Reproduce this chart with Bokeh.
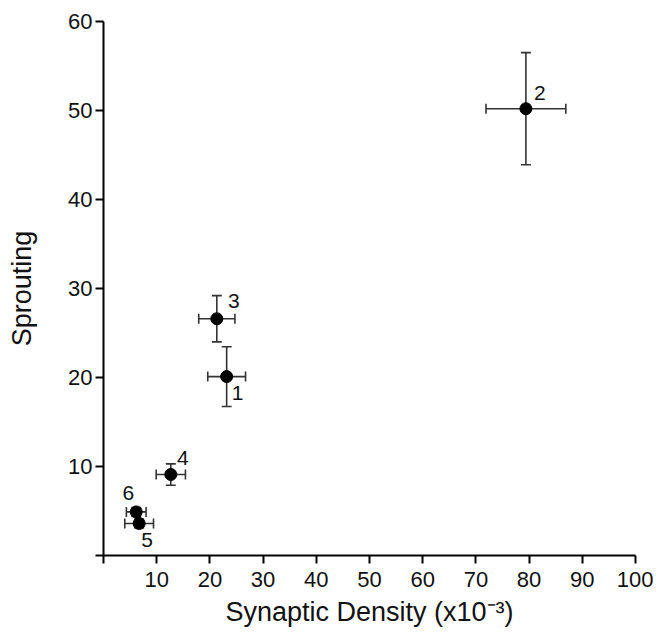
from bokeh.plotting import figure
from bokeh.models import ColumnDataSource, Whisker, TeeHead, FixedTicker, Range1d, LabelSet
from bokeh.core.properties import value
from bokeh.embed import file_html
from bokeh.resources import INLINE

# ---- data ----
labels = ["1", "2", "3", "4", "5", "6"]
density = [23.15, 79.4, 21.3, 12.65, 6.7, 6.15]
density_err = [3.55, 7.5, 3.4, 2.75, 2.7, 1.85]
sprouting = [20.1, 50.2, 26.6, 9.1, 3.6, 4.9]
sprouting_err = [3.35, 6.3, 2.6, 1.2, 0.5, 0.5]
x_ticks = [0, 10, 20, 30, 40, 50, 60, 70, 80, 90, 100]
y_ticks = [0, 10, 20, 30, 40, 50, 60]

# label placement (pixels, style only)
label_dx = [11, 14, 17, 12, 8, -8]
label_dy = [-16, 16, 18, 17, -17, 19]

FONT = "Liberation Sans"

src = ColumnDataSource(dict(
    x=density, y=sprouting,
    xl=[a - b for a, b in zip(density, density_err)],
    xu=[a + b for a, b in zip(density, density_err)],
    yl=[a - b for a, b in zip(sprouting, sprouting_err)],
    yu=[a + b for a, b in zip(sprouting, sprouting_err)],
    lab=labels, dx=label_dx, dy=label_dy,
))

p = figure(frame_width=532, frame_height=534,
           min_border_left=103, min_border_right=18,
           min_border_top=21, min_border_bottom=78,
           x_range=Range1d(0, 100), y_range=Range1d(0, 60),
           output_backend="svg", toolbar_location=None)
p.outline_line_color = None
p.grid.visible = False
p.background_fill_color = "white"
p.border_fill_color = "white"

ecol = "#333333"
wv = Whisker(source=src, base="x", upper="yu", lower="yl", dimension="height",
             line_color=ecol, line_width=1.6,
             upper_head=TeeHead(size=10, line_color=ecol, line_width=1.6),
             lower_head=TeeHead(size=10, line_color=ecol, line_width=1.6))
wh = Whisker(source=src, base="y", upper="xu", lower="xl", dimension="width",
             line_color=ecol, line_width=1.6,
             upper_head=TeeHead(size=10, line_color=ecol, line_width=1.6),
             lower_head=TeeHead(size=10, line_color=ecol, line_width=1.6))
p.add_layout(wv)
p.add_layout(wh)

p.scatter("x", "y", source=src, size=12, fill_color="black", line_color="black")

ls = LabelSet(x="x", y="y", text="lab", source=src, x_offset="dx", y_offset="dy",
              text_font=value(FONT), text_font_size="21px", text_color="#111111",
              text_align="center", text_baseline="middle")
p.add_layout(ls)

for ax in (p.xaxis[0], p.yaxis[0]):
    ax.axis_line_width = 2
    ax.axis_line_color = "black"
    ax.major_tick_line_width = 2
    ax.major_tick_line_color = "black"
    ax.major_tick_in = 0
    ax.major_tick_out = 8
    ax.minor_tick_line_color = None
    ax.major_label_text_font = FONT
    ax.major_label_text_font_size = "22px"
    ax.major_label_text_color = "#111111"
    ax.axis_label_text_font = FONT
    ax.axis_label_text_font_size = "27px"
    ax.axis_label_text_font_style = "normal"
    ax.axis_label_text_color = "#111111"

p.xaxis.ticker = FixedTicker(ticks=x_ticks)
p.yaxis.ticker = FixedTicker(ticks=y_ticks)
p.xaxis.major_label_overrides = {0: ""}
p.yaxis.major_label_overrides = {0: ""}
p.xaxis.axis_label = "Synaptic Density (x10⁻³)"
p.yaxis.axis_label = "Sprouting"
p.xaxis.major_label_standoff = 8
p.yaxis.major_label_standoff = 3
p.xaxis.axis_label_standoff = 7
p.yaxis.axis_label_standoff = 28

open("out.html", "w").write(file_html(p, INLINE))
